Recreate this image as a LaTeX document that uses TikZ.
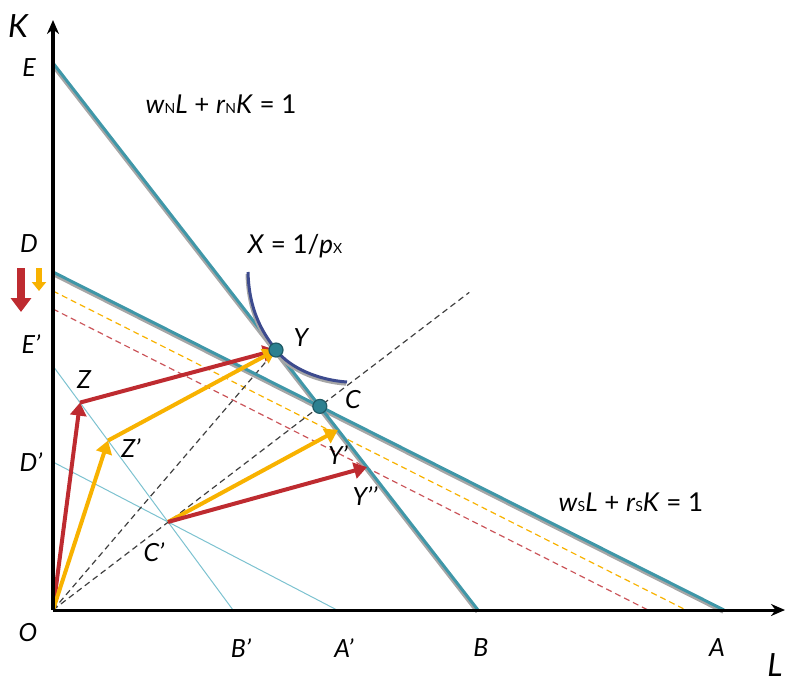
\documentclass[tikz,border=0pt]{standalone}
\usepackage{fontspec}
\setsansfont{Lato}
\usetikzlibrary{arrows.meta, calc, positioning}
\definecolor{budgetteal}{HTML}{3F97A8}
\definecolor{thinblue}{HTML}{7CC2D0}
\definecolor{vecred}{HTML}{BE2B30}
\definecolor{vecorange}{HTML}{F8B200}
\definecolor{isoblue}{HTML}{3D4B8E}
\definecolor{dotteal}{HTML}{2C8090}

\begin{document}
\begin{tikzpicture}[
    x=0.5pt, y=0.5pt,
    font=\sffamily\itshape\fontsize{12.5}{14}\selectfont,
    axis/.style={line width=1.5pt, -{Stealth[length=7pt, width=6pt]}},
    budget/.style={line width=1.5pt, budgetteal},
    shade/.style={line width=1.7pt, black!35, transform canvas={xshift=-0.4pt, yshift=-1pt}},
    thinline/.style={line width=0.5pt, thinblue},
    guide/.style={line width=0.6pt, dash pattern=on 3pt off 2pt, #1},
    vec/.style={line width=2pt, draw=#1, line join=round,
                -{Triangle[length=6.5pt, width=8pt]}},
    dot/.style={circle, fill=dotteal, draw=dotteal!70!black, line width=0.6pt,
                minimum size=7pt, inner sep=0pt},
    eq/.style={font=\sffamily\fontsize{13}{15}\selectfont},
    axlabel/.style={font=\sffamily\itshape\fontsize{16}{18}\selectfont},
  ]
    \useasboundingbox (-53,-72) rectangle (734,610);

    % points on the axes
    \coordinate (O) at (0,0);
    \coordinate (E) at (0,547);
    \coordinate (D) at (0,338);
    \coordinate (Ep) at (0,244);
    \coordinate (Dp) at (0,148);
    \coordinate (B) at (425,0);
    \coordinate (A) at (671,0);
    \coordinate (Bp) at (180,0);
    \coordinate (Ap) at (284,0);
    \coordinate (C) at (intersection of E--B and D--A);
    \coordinate (Cp) at (intersection of Ep--Bp and Dp--Ap);
    \coordinate (Y) at ($(E)!0.5247!(B)$);
    \coordinate (Yp) at ($(E)!0.6706!(B)$);
    \coordinate (Ypp) at ($(E)!0.7388!(B)$);
    \coordinate (Z) at ($(Ep)!0.15!(Bp)$);
    \coordinate (Zp) at ($(Ep)!0.3056!(Bp)$);

    % shifted lines
    \draw[thinline] (Ep) -- (Bp);
    \draw[thinline] (Dp) -- (Ap);
    \draw[guide=vecorange] (0,319) -- (633,0);
    \draw[guide=vecred!80] (0,301) -- (595,0);
    \draw[guide=black!75] (O) -- ($(O)!1.56!(C)$);
    \draw[guide=black!75] (O) -- (Y);

    % unit cost lines
    \draw[shade] (E) -- (B);
    \draw[shade] (D) -- (A);
    \draw[budget] (E) -- (B);
    \draw[budget] (D) -- (A);

    % isoquant
    \draw[line width=1.7pt, black!35, transform canvas={xshift=-0.4pt, yshift=-1pt}]
      (195,338) .. controls (196,300) and (209,278) .. (Y)
      .. controls (237,242) and (265,230) .. (294,228);
    \draw[line width=1.5pt, isoblue]
      (195,338) .. controls (196,300) and (209,278) .. (Y)
      .. controls (237,242) and (265,230) .. (294,228);

    % factor paths
    \draw[vec=vecred] (O) -- (Z);
    \draw[vec=vecred] (Z) -- (Y);
    \draw[vec=vecorange] (O) -- (Zp);
    \draw[vec=vecorange] (Zp) -- (Y);
    \draw[vec=vecorange] (Cp) -- (Yp);
    \draw[vec=vecred] (Cp) -- (Ypp);

    \node[dot] (dotY) at (Y) {};
    \node[dot] (dotC) at (C) {};

    % shift markers
    \draw[line width=4pt, vecred, -{Triangle[length=7pt, width=10pt]}] (-32,342) -- (-32,298);
    \draw[line width=3pt, vecorange, -{Triangle[length=4.5pt, width=7pt]}] (-14,342) -- (-14,319);

    % axes
    \draw[axis] (O) -- (732,0);
    \draw[axis] (O) -- (0,590);

    % labels
    \node[axlabel] (lK) at (-35,584) {K};
    \node[axlabel] (lL) at (722,-55) {L};
    \node (lE) at (-24,542) {E};
    \node (lD) at (-24,366) {D};
    \node (lEp) at (-22,266) {E’};
    \node (lDp) at (-22,148) {D’};
    \node (lO) at (-25,-23) {O};
    \node (lBp) at (188,-38) {B’};
    \node (lAp) at (291,-38) {A’};
    \node (lB) at (428,-38) {B};
    \node (lA) at (664,-38) {A};
    \node (lZ) at (31,230) {Z};
    \node (lZp) at (78,162) {Z’};
    \node (lCp) at (101,58) {C’};
    \node (lY) at (248,272) {Y};
    \node (lC) at (300,210) {C};
    \node (lYp) at (285,155) {Y’};
    \node (lYpp) at (312,114) {Y’’};
    \node[eq] (isoq) at (242,364) {\textit{X} = 1/\textit{p}{\scriptsize X}};
    \node[eq] (northeq) at (168,506)
      {\textit{w}{\scriptsize N}\textit{L} + \textit{r}{\scriptsize N}\textit{K} = 1};
    \node[eq] (southeq) at (578,108)
      {\textit{w}{\scriptsize S}\textit{L} + \textit{r}{\scriptsize S}\textit{K} = 1};
  \end{tikzpicture}
\end{document}
